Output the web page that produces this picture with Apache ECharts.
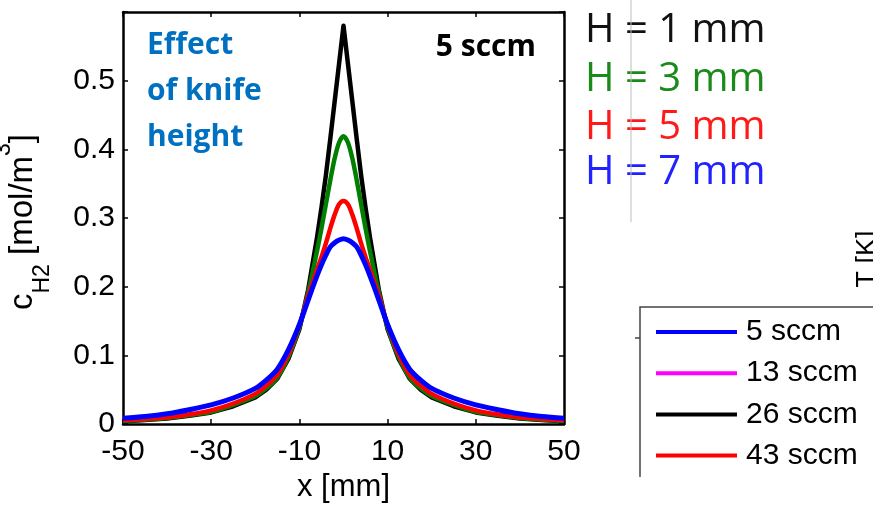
<!DOCTYPE html>
<html><head><meta charset="utf-8">
<script src="https://cdn.jsdelivr.net/npm/echarts@6/dist/echarts.min.js"></script>
<style>html,body{margin:0;padding:0;background:#fff}#c{width:873px;height:508px}</style>
</head><body><div id="c"></div>
<script>
// ---- data ----
const xValues = [-50,-45,-40,-35,-30,-25,-20,-17.5,-15,-12.5,-10,-8,-6,-5,-4,-3,-2,-1,0,1,2,3,4,5,6,8,10,12.5,15,17.5,20,25,30,35,40,45,50];
const cH1mm = [0.004,0.006,0.008,0.012,0.017,0.026,0.039,0.050,0.066,0.095,0.138,0.196,0.272,0.315,0.362,0.415,0.470,0.525,0.580,0.525,0.470,0.415,0.362,0.315,0.272,0.196,0.138,0.095,0.066,0.050,0.039,0.026,0.017,0.012,0.008,0.006,0.004];
const cH3mm = [0.0045,0.0065,0.009,0.013,0.018,0.028,0.041,0.052,0.068,0.098,0.141,0.192,0.252,0.285,0.320,0.355,0.387,0.410,0.419,0.410,0.387,0.355,0.320,0.285,0.252,0.192,0.141,0.098,0.068,0.052,0.041,0.028,0.018,0.013,0.009,0.0065,0.0045];
const cH5mm = [0.0055,0.0075,0.010,0.014,0.020,0.030,0.044,0.056,0.072,0.102,0.144,0.187,0.225,0.243,0.263,0.285,0.305,0.320,0.325,0.320,0.305,0.285,0.263,0.243,0.225,0.187,0.144,0.102,0.072,0.056,0.044,0.030,0.020,0.014,0.010,0.0075,0.0055];
const cH7mm = [0.0085,0.011,0.015,0.021,0.028,0.038,0.052,0.064,0.080,0.108,0.145,0.181,0.216,0.232,0.246,0.258,0.264,0.268,0.270,0.268,0.264,0.258,0.246,0.232,0.216,0.181,0.145,0.108,0.080,0.064,0.052,0.038,0.028,0.021,0.015,0.011,0.0085];
const seriesNames = ['H = 1 mm','H = 3 mm','H = 5 mm','H = 7 mm'];
const seriesColors = ['#000000','#007f00','#ff0000','#0000ff'];
const labelColors = ['#111111','#1a8a1a','#ff1a1a','#2222ff'];
const xTicks = [-50,-30,-10,10,30,50];
const yTicks = [0,0.1,0.2,0.3,0.4,0.5];
const annotationLines = ['Effect','of knife','height'];
const flowLabel = '5 sccm';
const otherLegendLabels = ['5 sccm','13 sccm','26 sccm','43 sccm'];
const otherLegendColors = ['#0000ff','#ff00ff','#000000','#ff0000'];

// ---- chart ----
const chart = echarts.init(document.getElementById('c'), null, {renderer:'canvas'});
const AX = 'Liberation Sans, Arial, sans-serif';
const CAL = 'Open Sans, sans-serif';
const seriesData = [cH1mm, cH3mm, cH5mm, cH7mm];
const series = seriesData.map((arr, k) => ({
  name: seriesNames[k], type: 'line', xAxisIndex: 0, yAxisIndex: 0,
  data: xValues.map((x, i) => [x, arr[i]]),
  showSymbol: false, smooth: k === 0 ? false : 0.3,
  lineStyle: {color: seriesColors[k], width: k === 3 ? 5 : 4.5, join: 'round'},
  itemStyle: {color: seriesColors[k]}, z: 2 + k, silent: true, animation: false
}));

const graphics = [];
// y axis title with sub/superscript
graphics.push({
  type: 'text', x: 23, y: 222, rotation: Math.PI / 2,
  style: {
    text: '{m|c}{sub|H2}{m| [mol/m}{sup|3}{m|]}',
    align: 'center', verticalAlign: 'middle',
    rich: {
      m: {fontFamily: AX, fontSize: 33, lineHeight: 62, verticalAlign: 'middle', fill: '#000'},
      sub: {fontFamily: AX, fontSize: 23, lineHeight: 24, verticalAlign: 'bottom', fill: '#000'},
      sup: {fontFamily: AX, fontSize: 23, lineHeight: 24, verticalAlign: 'top', fill: '#000'}
    }
  }
});
// annotation text
annotationLines.forEach((t, i) => graphics.push({
  type: 'text', x: 147, y: 45 + i * 46,
  style: {text: t, fontFamily: CAL, fontWeight: 'bold', fontSize: 30, fill: '#0070c0', align: 'left', verticalAlign: 'middle'}
}));
graphics.push({
  type: 'text', x: 536, y: 47,
  style: {text: flowLabel, fontFamily: CAL, fontWeight: 'bold', fontSize: 30, fill: '#000', align: 'right', verticalAlign: 'middle'}
});
// H = ... labels
seriesNames.forEach((t, i) => graphics.push({
  type: 'text', x: 585, y: [31, 80, 128, 173][i],
  style: {text: t, fontFamily: CAL, fontSize: 40, fill: labelColors[i], align: 'left', verticalAlign: 'middle'}
}));
// grey vertical line
graphics.push({type: 'line', shape: {x1: 631, y1: 0, x2: 631, y2: 222}, style: {stroke: '#bdbdbd', lineWidth: 1}, z: 10});
// T [K]
graphics.push({
  type: 'text', x: 868, y: 259, rotation: Math.PI / 2,
  style: {text: 'T [K]', fontFamily: AX, fontSize: 27, fill: '#000', align: 'center', verticalAlign: 'middle'}
});
// partial legend box of another panel
graphics.push({type: 'polyline', shape: {points: [[640, 477], [640, 307], [875, 307]]}, style: {stroke: '#444', lineWidth: 1.5, fill: null}});
graphics.push({type: 'line', shape: {x1: 635, y1: 338, x2: 640, y2: 338}, style: {stroke: '#444', lineWidth: 1.5}});
otherLegendLabels.forEach((t, i) => {
  const y = 332 + i * 41.2;
  graphics.push({type: 'line', shape: {x1: 656, y1: y, x2: 737, y2: y}, style: {stroke: otherLegendColors[i], lineWidth: 4}});
  graphics.push({type: 'text', x: 746, y: y, style: {text: t, fontFamily: AX, fontSize: 30, fill: '#000', align: 'left', verticalAlign: 'middle'}});
});

const axisLabelY = {
  fontFamily: AX, fontSize: 30, color: '#000', margin: 8,
  formatter: v => (yTicks.some(t => Math.abs(t - v) < 1e-9) ? String(Math.round(v * 10) / 10) : '')
};

chart.setOption({
  animation: false,
  backgroundColor: '#fff',
  grid: {left: 123, right: 309, top: 12, bottom: 80, containLabel: false},
  xAxis: [
    {type: 'value', min: -50, max: 50, interval: 20, position: 'bottom',
     axisLine: {show: true, onZero: false, lineStyle: {color: '#000', width: 2.5}},
     axisTick: {show: true, inside: true, length: 5, lineStyle: {color: '#000', width: 1.5}},
     axisLabel: {fontFamily: AX, fontSize: 30, color: '#000', margin: 13, formatter: v => xTicks.includes(v) ? String(v) : ''},
     splitLine: {show: false},
     name: 'x [mm]', nameLocation: 'middle', nameGap: 46,
     nameTextStyle: {fontFamily: AX, fontSize: 31, color: '#000'}},
    {type: 'value', min: -50, max: 50, interval: 20, position: 'top',
     axisLine: {show: true, onZero: false, lineStyle: {color: '#000', width: 2.5}},
     axisTick: {show: true, inside: true, length: 5, lineStyle: {color: '#000', width: 1.5}},
     axisLabel: {show: false}, splitLine: {show: false}}
  ],
  yAxis: [
    {type: 'value', min: 0, max: 0.6, interval: 0.1, position: 'left',
     axisLine: {show: true, onZero: false, lineStyle: {color: '#000', width: 2.5}},
     axisTick: {show: true, inside: true, length: 5, lineStyle: {color: '#000', width: 1.5}},
     axisLabel: axisLabelY, splitLine: {show: false}},
    {type: 'value', min: 0, max: 0.6, interval: 0.1, position: 'right',
     axisLine: {show: true, onZero: false, lineStyle: {color: '#000', width: 2.5}},
     axisTick: {show: true, inside: true, length: 5, lineStyle: {color: '#000', width: 1.5}},
     axisLabel: {show: false}, splitLine: {show: false}}
  ],
  series: series,
  graphic: graphics
});
</script>
</body></html>
